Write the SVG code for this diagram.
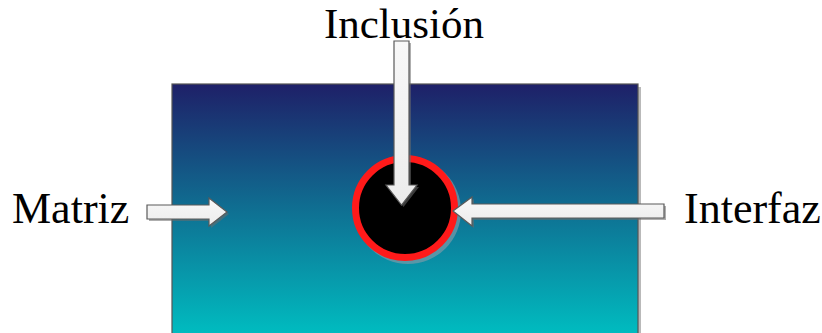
<svg xmlns="http://www.w3.org/2000/svg" width="822" height="333" viewBox="0 0 822 333">
<style>
.lbl{font-family:"Liberation Serif","Times New Roman",serif;font-size:44px;fill:#000}
.arr{fill:url(#ag);stroke:#5a5a5a;stroke-width:1.2;stroke-linejoin:miter}
.sh{fill:#6b6b6b;opacity:0.55}
</style>
<defs>
<linearGradient id="bg" x1="0" y1="0" x2="0" y2="1">
<stop offset="0" stop-color="#1e2068"/>
<stop offset="0.5" stop-color="#0f6f92"/>
<stop offset="1" stop-color="#00bcc0"/>
</linearGradient>
<linearGradient id="ag" x1="0" y1="0" x2="0" y2="1">
<stop offset="0" stop-color="#f8f8f8"/>
<stop offset="1" stop-color="#ececec"/>
</linearGradient>
</defs>
<g id="matriz-bloque">
<rect x="175" y="87" width="466" height="250" fill="#8a8a8a" opacity="0.6"/>
<rect x="172" y="84" width="466" height="250" fill="url(#bg)" stroke="#555" stroke-width="1.2"/>
</g>
<g id="inclusion-circulo">
<circle cx="408" cy="211" r="53" fill="#7a9aa8" opacity="0.7"/>
<circle cx="405" cy="208" r="49.5" fill="#000" stroke="#ff1a1a" stroke-width="7"/>
</g>
<g id="connectors">
<polygon class="sh" points="396,43 411,43 411,187 419,187 403.5,207 388,187 396,187"/>
<polygon class="arr" points="394,41 409,41 409,185 417,185 401.5,205 386,185 394,185"/>
<polygon class="sh" points="149,207 211,207 211,200 229,214 211,228 211,221 149,221"/>
<polygon class="arr" points="147,205 209,205 209,198 227,212 209,226 209,219 147,219"/>
<polygon class="sh" points="455,213 474,199 474,206 666,206 666,220 474,220 474,228"/>
<polygon class="arr" points="453,211 472,197 472,204 664,204 664,218 472,218 472,226"/>
</g>
<g id="label-inclusion"><text class="lbl" x="404" y="38" text-anchor="middle" style="font-size:43px">Inclusión</text></g>
<g id="label-matriz"><text class="lbl" x="12" y="223">Matriz</text></g>
<g id="label-interfaz"><text class="lbl" x="684" y="223">Interfaz</text></g>
</svg>
